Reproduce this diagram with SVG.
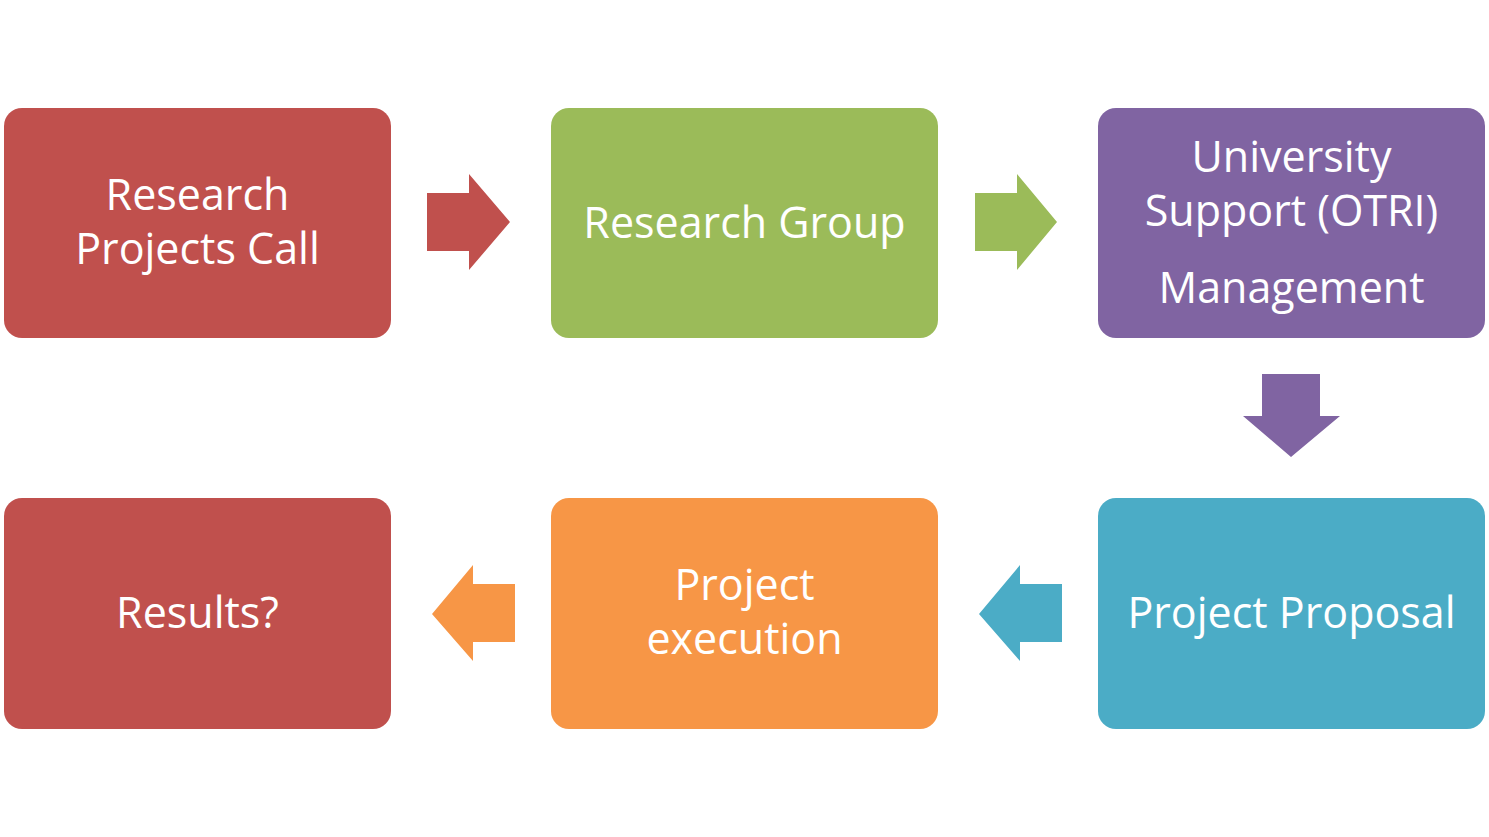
<svg xmlns="http://www.w3.org/2000/svg" width="1489" height="837" viewBox="0 0 1489 837">
<style>
.box{stroke:none}
.t{font-family:"Open Sans","Liberation Sans",sans-serif;font-size:43px;fill:#ffffff;text-anchor:middle}
</style>
<rect width="1489" height="837" fill="#ffffff"/>
<g id="n1"><rect class="box" x="4" y="108" width="387" height="230" rx="18" fill="#C0504D"/>
<text class="t" x="197.5" y="210">Research</text><text class="t" x="197.5" y="264">Projects Call</text></g>
<g id="n2"><rect class="box" x="551" y="108" width="387" height="230" rx="18" fill="#9BBB59"/>
<text class="t" x="744.5" y="238">Research Group</text></g>
<g id="n3"><rect class="box" x="1098" y="108" width="387" height="230" rx="18" fill="#8064A2"/>
<text class="t" x="1291.5" y="172">University</text><text class="t" x="1291.5" y="226">Support (OTRI)</text><text class="t" x="1291.5" y="303">Management</text></g>
<g id="n4"><rect class="box" x="1098" y="498" width="387" height="231" rx="18" fill="#4BACC6"/>
<text class="t" x="1291.5" y="628">Project Proposal</text></g>
<g id="n5"><rect class="box" x="551" y="498" width="387" height="231" rx="18" fill="#F79646"/>
<text class="t" x="744.5" y="600">Project</text><text class="t" x="744.5" y="654">execution</text></g>
<g id="n6"><rect class="box" x="4" y="498" width="387" height="231" rx="18" fill="#C0504D"/>
<text class="t" x="197.5" y="628">Results?</text></g>
<g id="connectors">
<polygon points="427,193 469,193 469,174 510,222 469,270 469,251 427,251" fill="#C0504D"/>
<polygon points="975,193 1017,193 1017,174 1057,222 1017,270 1017,251 975,251" fill="#9BBB59"/>
<polygon points="1262,374 1320,374 1320,416 1340,416 1291,457 1243,416 1262,416" fill="#8064A2"/>
<polygon points="1062,584 1020,584 1020,565 979,614 1020,661 1020,642 1062,642" fill="#4BACC6"/>
<polygon points="515,584 473,584 473,565 432,614 473,661 473,642 515,642" fill="#F79646"/>
</g>
</svg>
